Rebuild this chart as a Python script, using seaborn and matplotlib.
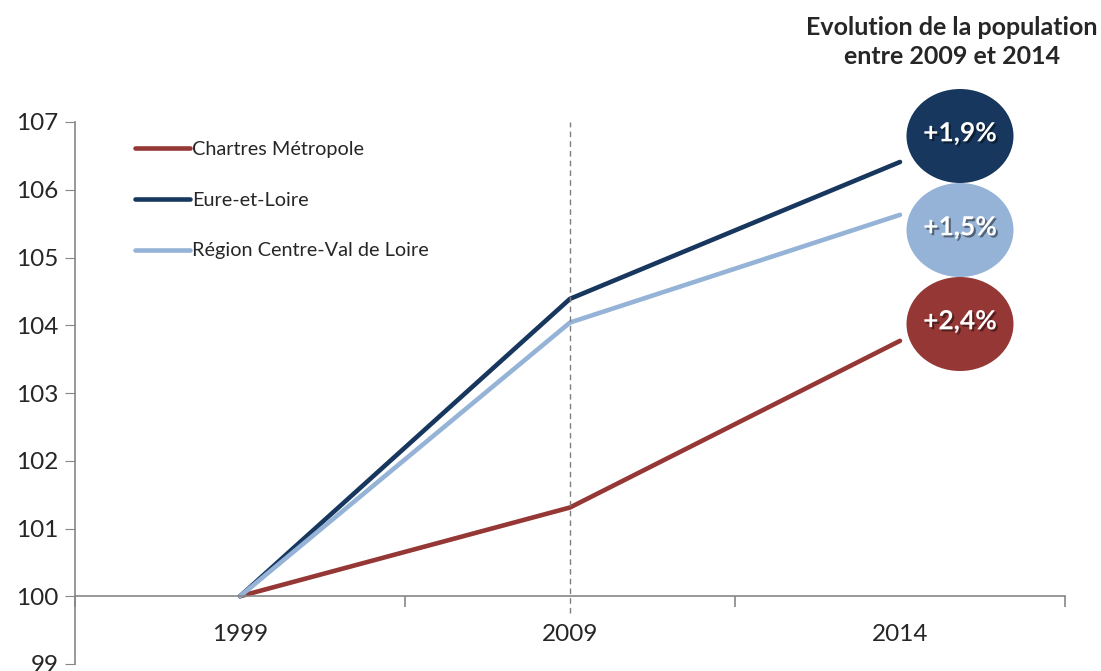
import pandas as pd
import numpy as np
import matplotlib.pyplot as plt
import matplotlib.patheffects as pe
from matplotlib.patches import Ellipse
import seaborn as sns

sns.set_style("white")
plt.rcParams["font.family"] = ["Lato", "DejaVu Sans"]

# data
years = ["1999", "2009", "2014"]
chartres = [100, 101.31, 103.77]
eure = [100, 104.39, 106.41]
region = [100, 104.04, 105.63]
series_names = ["Chartres Métropole", "Eure-et-Loire", "Région Centre-Val de Loire"]
badge_labels = ["+1,9%", "+1,5%", "+2,4%"]
yticks = list(range(99, 108))

colors = {"Chartres Métropole": "#953735",
          "Eure-et-Loire": "#17375E",
          "Région Centre-Val de Loire": "#95B3D7"}

df = pd.DataFrame({
    "annee": years * 3,
    "indice": chartres + eure + region,
    "zone": [series_names[0]] * 3 + [series_names[1]] * 3 + [series_names[2]] * 3,
})

fig = plt.figure(figsize=(11.01, 6.71), dpi=100)
ax = fig.add_axes([75 / 1101, 1 - 664 / 671, 990 / 1101, 542 / 671])

sns.lineplot(data=df, x="annee", y="indice", hue="zone", palette=colors,
             hue_order=series_names, sort=False, lw=3.3, ax=ax,
             solid_capstyle="round")

axis_col = "#868686"
ax.set_xlim(-0.5, 2.5)
ax.set_ylim(99, 107)
ax.set_yticks(yticks)
ax.set_xlabel("")
ax.set_ylabel("")

# dashed line at 2009
ax.vlines(1, 99.75, 107, colors="#7f7f7f", linestyles=(0, (4, 3)), lw=1)

# axes styling
for s in ["top", "right"]:
    ax.spines[s].set_visible(False)
ax.spines["left"].set_color(axis_col)
ax.spines["bottom"].set_color(axis_col)
ax.spines["bottom"].set_position(("data", 100))
ax.spines["left"].set_linewidth(1.2)
ax.spines["bottom"].set_linewidth(1.2)

ax.tick_params(axis="y", direction="out", length=7, color=axis_col,
               labelsize=17.5, pad=5, left=True)
ax.set_xticks([0, 1, 2])
ax.set_xticks([-0.5, 0.5, 1.5, 2.5], minor=True)
ax.tick_params(axis="x", which="major", length=0, labelsize=17.5, pad=20)
ax.tick_params(axis="x", which="minor", direction="out", length=8,
               color=axis_col, width=1.2, bottom=True)

leg = ax.legend(loc="upper left", bbox_to_anchor=(0.043, 0.998), frameon=False,
                fontsize=14.3, handlelength=2.75, handletextpad=0.1,
                labelspacing=1.7)
for line in leg.get_lines():
    line.set_linewidth(3.3)

# title on the right
fig.text(952 / 1101, 1 - 42 / 671, "Evolution de la population\nentre 2009 et 2014",
         ha="center", va="center", fontsize=18, fontweight="bold",
         linespacing=1.35)

# badges
badge_y = [136, 230, 324]
badge_cols = [colors[series_names[1]], colors[series_names[2]], colors[series_names[0]]]
for yy, lab, c in zip(badge_y, badge_labels, badge_cols):
    cx, cy = 960 / 1101, 1 - yy / 671
    fig.patches.append(Ellipse((cx, cy), 107 / 1101, 94 / 671,
                               transform=fig.transFigure, facecolor=c,
                               edgecolor="none", zorder=5))
    fig.text(cx, cy + 0.004, lab, ha="center", va="center", color="white",
             fontsize=19, fontweight="bold", zorder=6,
             path_effects=[pe.withSimplePatchShadow(offset=(1.5, -1.5),
                                                    shadow_rgbFace="black",
                                                    alpha=0.45)])

fig.savefig("out.png", dpi=100)
